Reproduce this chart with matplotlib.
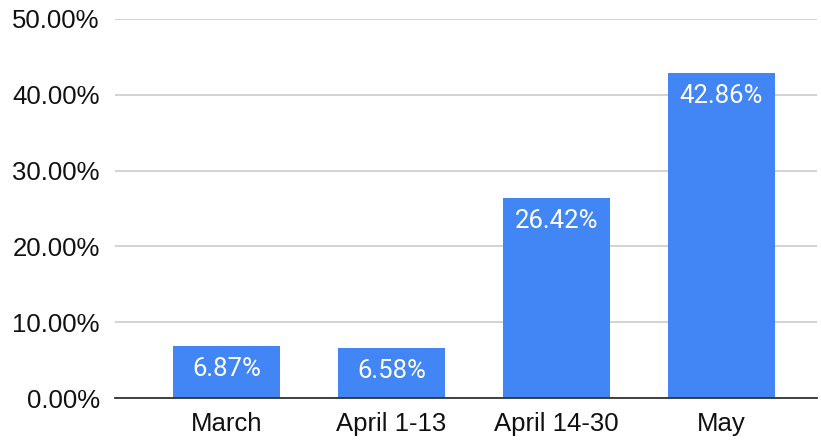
import matplotlib.pyplot as plt
from matplotlib.ticker import FuncFormatter

periods = ["March", "April 1-13", "April 14-30", "May"]
shares = [6.87, 6.58, 26.42, 42.86]
yticks = [0, 10, 20, 30, 40, 50]

plt.rcParams['font.family'] = ['Liberation Sans', 'DejaVu Sans']

fig = plt.figure(figsize=(8.21, 4.40), dpi=100)
ax = fig.add_axes([115/821, 42/440, (817-115)/821, (398-19)/440])

x = range(len(periods))
bars = ax.bar(x, shares, width=0.645, color="#4285F4", zorder=3)

# value labels inside bars, near the top
for b, v in zip(bars, shares):
    ax.annotate(f"{v:.2f}%", (b.get_x() + b.get_width()/2, v),
                xytext=(0, -8), textcoords="offset points",
                ha="center", va="top", color="white", fontsize=18.5,
                family="Roboto")

ax.set_xlim(-0.676, 3.58)
ax.set_ylim(0, 50)
ax.set_yticks(yticks)
ax.yaxis.set_major_formatter(FuncFormatter(lambda v, p: f"{v:.2f}%"))
ax.set_xticks(list(x))
ax.set_xticklabels(periods)
ax.tick_params(axis="both", length=0, labelsize=18.5, colors="#111111")
ax.tick_params(axis="y", pad=11)
ax.tick_params(axis="x", pad=10)

ax.grid(axis="y", color="#cccccc", linewidth=1.2, zorder=0)
for s in ["top", "right", "left"]:
    ax.spines[s].set_visible(False)
ax.spines["bottom"].set_color("#333333")
ax.spines["bottom"].set_linewidth(1.3)
ax.spines["bottom"].set_zorder(4)

plt.savefig("out.png", dpi=100)
plt.close()
